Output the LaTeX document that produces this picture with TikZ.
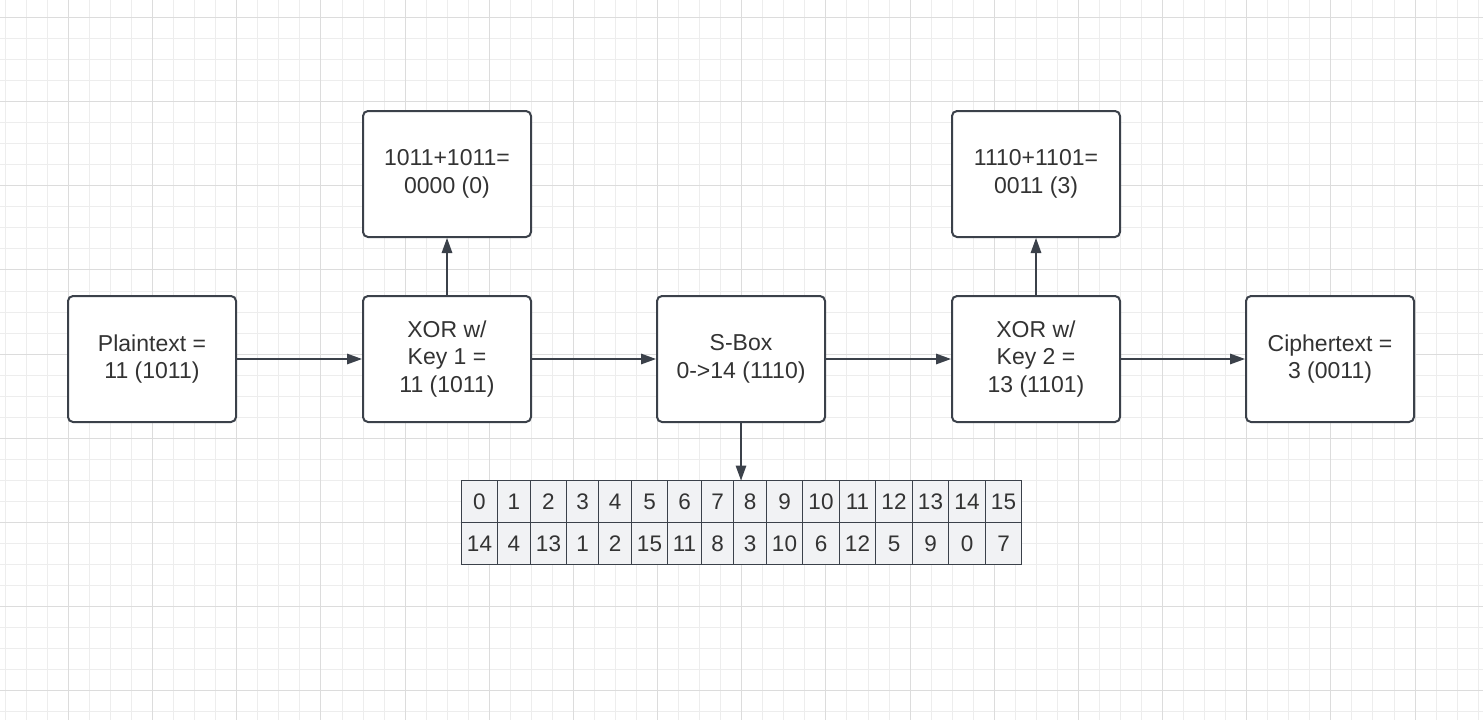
\documentclass[tikz,border=0pt]{standalone}
\usepackage{fontspec}
\setmainfont{Liberation Sans}
\usetikzlibrary{arrows.meta}
\definecolor{ink}{HTML}{333333}
\definecolor{edge}{HTML}{3B414A}
\definecolor{gridlo}{HTML}{EDEDED}
\definecolor{gridhi}{HTML}{DCDCDC}
\definecolor{cellfill}{HTML}{F1F2F4}
\begin{document}
\begin{tikzpicture}[x=1pt,y=-1pt,
  box/.style={draw=edge,line width=2pt,rounded corners=5pt,fill=white,minimum width=168pt,minimum height=126pt,
    align=center,text=ink,font=\fontsize{23}{27.5}\selectfont,inner sep=0pt},
  flow/.style={draw=edge,line width=1.5pt,-{Triangle[length=15pt,width=10.5pt]}},
  cell/.style={draw=edge,line width=1.2pt,fill=cellfill,text=ink,font=\fontsize{22.5}{26}\selectfont,
    text height=16pt,text depth=0pt,inner sep=0pt,outer sep=0pt}]
\fill[white] (0,0) rectangle (1483,720);
\useasboundingbox (0,0) rectangle (1483,720);
% grid
\foreach \i in {0,...,70} \draw[gridlo,line width=1pt] ({round(4.9+21.04*\i)+0.5},0) -- ++(0,720);
\foreach \j in {0,...,33} \draw[gridlo,line width=1pt] (0,{round(17+21.04*\j)+0.5}) -- ++(1483,0);
\foreach \i in {0,...,16} \draw[gridhi,line width=1pt] ({round(4.9+21.04*(3+4*\i))+0.5},0) -- ++(0,720);
\foreach \j in {0,...,8} \draw[gridhi,line width=1pt] (0,{round(17+21.04*4*\j)+0.5}) -- ++(1483,0);

\node[box] (plain) at (152,359) {Plaintext =\\11 (1011)};
\node[box] (xorA) at (447,359) {XOR w/\\Key 1 =\\11 (1011)};
\node[box] (sbox) at (741,359) {S-Box\\0->14 (1110)};
\node[box] (xorB) at (1036,359) {XOR w/\\Key 2 =\\13 (1101)};
\node[box] (cipher) at (1330,359) {Ciphertext =\\3 (0011)};
\node[box] (sumA) at (447,174) {1011+1011=\\0000 (0)};
\node[box] (sumB) at (1036,174) {1110+1101=\\0011 (3)};

% s-box table
\foreach \l/\r/\a/\b [count=\i from 0] in {461.5/497.5/0/14,497.5/530.5/1/4,530.5/566.5/2/13,566.5/598.5/3/1,
  598.5/631.5/4/2,631.5/667.5/5/15,667.5/701.5/6/11,701.5/733.5/7/8,733.5/766.5/8/3,766.5/802.5/9/10,
  802.5/839.5/10/6,839.5/875.5/11/12,875.5/912.5/12/5,912.5/948.5/13/9,948.5/985.5/14/0,985.5/1021.5/15/7}{
  \pgfmathsetmacro\w{\r-\l}
  \node[cell,minimum width=\w pt,minimum height=42pt] (in\i) at ({(\l+\r)/2},501.5) {\a};
  \node[cell,minimum width=\w pt,minimum height=42pt] (out\i) at ({(\l+\r)/2},543.5) {\b};
}

\draw[flow] (plain) -- (xorA);
\draw[flow] (xorA) -- (sbox);
\draw[flow] (sbox) -- (xorB);
\draw[flow] (xorB) -- (cipher);
\draw[flow] (xorA) -- (sumA);
\draw[flow] (xorB) -- (sumB);
\draw[flow] (sbox.south) -- (sbox.south |- in8.north);
\end{tikzpicture}
\end{document}
